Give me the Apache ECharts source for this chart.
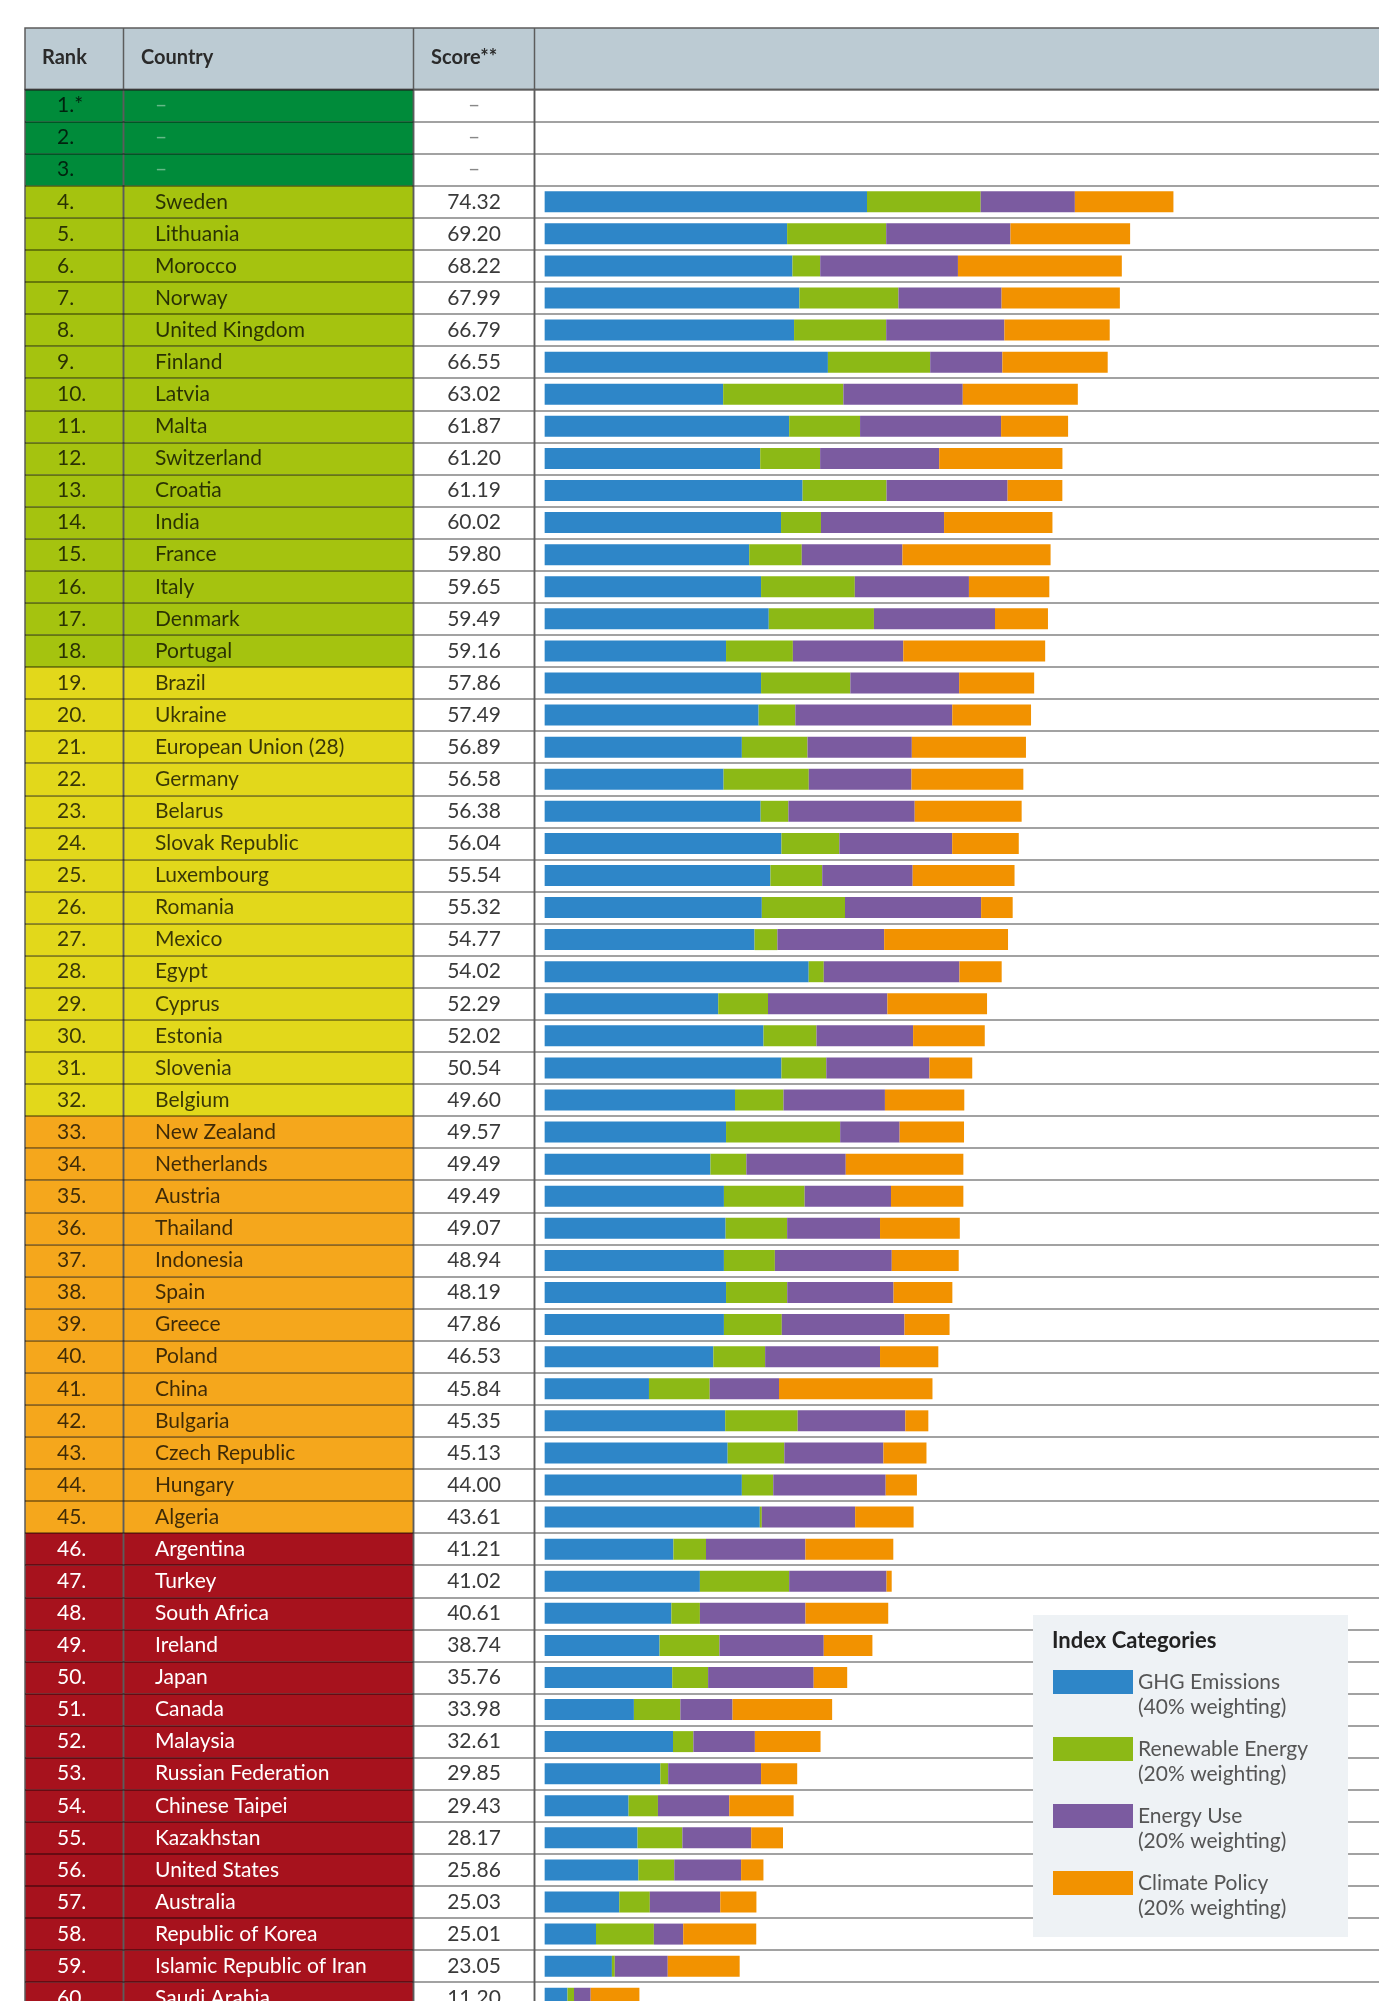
<!DOCTYPE html>
<html>
<head>
<meta charset="utf-8">
<script src="https://cdn.jsdelivr.net/npm/echarts@6/dist/echarts.min.js"></script>
<style>
  html, body { margin: 0; padding: 0; background: #fff; }
  #main { width: 1379px; height: 2001px; }
</style>
</head>
<body>
<div id="main"></div>
<script>
// table rows (rank 1-3 left empty in the original)
const ranks = ['1.*', '2.', '3.'].concat(Array.from({ length: 57 }, (_, i) => (i + 4) + '.'));
const countries = ['–', '–', '–', 'Sweden', 'Lithuania', 'Morocco', 'Norway', 'United Kingdom', 'Finland',
  'Latvia', 'Malta', 'Switzerland', 'Croatia', 'India', 'France', 'Italy', 'Denmark', 'Portugal', 'Brazil',
  'Ukraine', 'European Union (28)', 'Germany', 'Belarus', 'Slovak Republic', 'Luxembourg', 'Romania', 'Mexico',
  'Egypt', 'Cyprus', 'Estonia', 'Slovenia', 'Belgium', 'New Zealand', 'Netherlands', 'Austria', 'Thailand',
  'Indonesia', 'Spain', 'Greece', 'Poland', 'China', 'Bulgaria', 'Czech Republic', 'Hungary', 'Algeria',
  'Argentina', 'Turkey', 'South Africa', 'Ireland', 'Japan', 'Canada', 'Malaysia', 'Russian Federation',
  'Chinese Taipei', 'Kazakhstan', 'United States', 'Australia', 'Republic of Korea', 'Islamic Republic of Iran',
  'Saudi Arabia'];
const scores = [null, null, null, 74.32, 69.20, 68.22, 67.99, 66.79, 66.55, 63.02, 61.87, 61.20, 61.19, 60.02,
  59.80, 59.65, 59.49, 59.16, 57.86, 57.49, 56.89, 56.58, 56.38, 56.04, 55.54, 55.32, 54.77, 54.02, 52.29, 52.02,
  50.54, 49.60, 49.57, 49.49, 49.49, 49.07, 48.94, 48.19, 47.86, 46.53, 45.84, 45.35, 45.13, 44.00, 43.61, 41.21,
  41.02, 40.61, 38.74, 35.76, 33.98, 32.61, 29.85, 29.43, 28.17, 25.86, 25.03, 25.01, 23.05, 11.20];

// index categories
const ghg = [null, null, null,
  38.10, 28.66, 29.29, 30.11, 29.48, 33.48, 21.10, 28.90, 25.48, 30.49,
  27.94, 24.18, 25.58, 26.49, 21.44, 25.58, 25.29, 23.31, 21.15, 25.53,
  27.99, 26.69, 25.67, 24.81, 31.21, 20.52, 25.87, 27.99, 22.50, 21.44,
  19.60, 21.19, 21.39, 21.19, 21.44, 21.19, 19.94, 12.33, 21.34, 21.63,
  23.31, 25.43, 15.22, 18.35, 14.98, 13.58, 15.08, 10.55, 15.17, 13.68,
  9.92, 10.98, 11.08, 8.82, 6.07, 7.95, 2.70];
const renewable = [null, null, null,
  13.44, 11.71, 3.28, 11.71, 10.89, 12.09, 14.21, 8.38, 7.08, 9.92,
  4.72, 6.21, 11.08, 12.43, 7.90, 10.55, 4.34, 7.76, 10.07, 3.28,
  6.84, 6.12, 9.83, 2.70, 1.78, 5.88, 6.26, 5.30, 5.73, 13.49,
  4.24, 9.54, 7.27, 6.02, 7.23, 6.84, 6.12, 7.18, 8.57, 6.70,
  3.71, 0.24, 3.85, 10.55, 3.37, 7.08, 4.24, 5.49, 2.41, 0.92,
  3.47, 5.30, 4.24, 3.61, 6.84, 0.34, 0.77];
const energyUse = [null, null, null,
  11.13, 14.69, 16.28, 12.19, 13.97, 8.53, 14.11, 16.67, 14.07, 14.31,
  14.55, 11.90, 13.49, 14.31, 13.05, 12.86, 18.55, 12.33, 12.14, 14.93,
  13.34, 10.69, 16.09, 12.62, 16.04, 14.11, 11.42, 12.19, 11.99, 7.03,
  11.75, 10.21, 10.98, 13.82, 12.57, 14.50, 13.58, 8.19, 12.72, 11.71,
  13.29, 11.03, 11.75, 11.51, 12.48, 12.33, 12.48, 6.17, 7.27, 10.98,
  8.43, 8.14, 7.90, 8.33, 3.47, 6.26, 1.97];
const policy = [null, null, null,
  11.65, 14.14, 19.37, 13.98, 12.45, 12.45, 13.60, 7.92, 14.57, 6.47,
  12.81, 17.51, 9.50, 6.26, 16.77, 8.87, 9.31, 13.49, 13.22, 12.64,
  7.87, 12.04, 3.73, 14.64, 4.99, 11.78, 8.47, 5.06, 9.38, 7.61,
  13.90, 8.55, 9.43, 7.91, 6.95, 5.33, 6.89, 18.14, 2.72, 5.09,
  3.69, 6.91, 10.39, 0.61, 9.78, 5.75, 3.96, 11.77, 7.76, 4.27,
  7.61, 3.75, 2.64, 4.27, 8.63, 8.50, 5.76];

const categoryNames = ['GHG Emissions', 'Renewable Energy', 'Energy Use', 'Climate Policy'];
const weightings = ['(40% weighting)', '(20% weighting)', '(20% weighting)', '(20% weighting)'];
const headers = ['Rank', 'Country', 'Score**'];

// rating bands: last rank in each band
const bandLast = [3, 18, 32, 45, 60];
const bandColors = ['#008b3a', '#a5c30f', '#e2d81b', '#f5a71c', '#a7121d'];
const bandText = ['rgba(0,0,0,0.75)', 'rgba(0,0,0,0.75)', 'rgba(0,0,0,0.75)', 'rgba(0,0,0,0.75)', '#ffffff'];
const catColors = ['#2e86c8', '#8cb916', '#7b5ba0', '#f29200'];

const FONT = 'Lato';
const TOP = 89.5, ROW = 32.08;
const H = ROW * ranks.length;
const cols = [[25, 98.5], [123.5, 290], [413.5, 121], [534.5, 854.5]];

const band = i => bandLast.findIndex(b => i + 1 <= b);

const myChart = echarts.init(document.getElementById('main'), null, { renderer: 'canvas' });

// the table runs past the bottom and right edge of the page, so no outer bounds
const grids = cols.map(c => ({
  left: c[0], width: c[1], top: TOP, height: H, z: 3, outerBoundsMode: 'none',
  show: true, borderColor: '#5c5c5c', borderWidth: 1.5, backgroundColor: 'transparent'
}));

const yAxes = cols.map((c, k) => ({
  type: 'category', gridIndex: k, inverse: true, data: ranks,
  axisLabel: { show: false }, axisTick: { show: false }, axisLine: { show: false },
  z: k < 2 ? 3 : 0,
  splitLine: {
    show: true,
    lineStyle: k < 2 ? { color: 'rgba(0,0,0,0.38)', width: 2 } : { color: '#a2a2a2', width: 2 }
  }
}));

const xAxes = cols.map((c, k) => k < 3
  ? { type: 'value', gridIndex: k, min: 0, max: 1, show: false }
  : { type: 'value', gridIndex: k, min: -1.2, max: 99.8, show: false });

const cellSeries = (k, textOf, colorOf, labelColorOf, pos) => ({
  type: 'bar', xAxisIndex: k, yAxisIndex: k, barCategoryGap: '0%', silent: true, z: 2,
  data: ranks.map((r, i) => ({
    value: 1,
    itemStyle: { color: colorOf(i) },
    label: { color: labelColorOf(i) }
  })),
  label: {
    show: true, position: pos, align: pos === 'inside' ? 'center' : 'left', verticalAlign: 'middle',
    fontFamily: FONT, fontSize: 21,
    formatter: p => textOf(p.dataIndex)
  }
});

const series = [
  cellSeries(0, i => ranks[i], i => bandColors[band(i)], i => bandText[band(i)], [32, '50%']),
  cellSeries(1, i => countries[i], i => bandColors[band(i)],
    i => (scores[i] == null ? 'rgba(255,255,255,0.4)' : bandText[band(i)]), [31.5, '50%']),
  cellSeries(2, i => (scores[i] == null ? '–' : scores[i].toFixed(2)), () => 'rgba(255,255,255,0)',
    i => (scores[i] == null ? '#888' : '#3a3a3a'), 'inside')
];
[ghg, renewable, energyUse, policy].forEach((d, k) => {
  series.push({
    name: categoryNames[k], type: 'bar', stack: 'total', xAxisIndex: 3, yAxisIndex: 3,
    barWidth: 21, itemStyle: { color: catColors[k] }, data: d, silent: true
  });
});

// header row of the table
const headerGraphic = [
  { type: 'rect', shape: { x: cols[0][0], y: 28, width: 1400, height: TOP - 28 },
    style: { fill: '#bccbd3', stroke: '#5c5c5c', lineWidth: 1.5 } }
].concat(cols.slice(1).map(c => ({
  type: 'line', shape: { x1: c[0], y1: 28, x2: c[0], y2: TOP }, style: { stroke: '#5c5c5c', lineWidth: 1.5 }
}))).concat(headers.map((h, k) => ({
  type: 'text', x: [42, 141, 431][k], y: 58,
  style: { text: h, fill: '#2a2a2a', font: 'bold 20px ' + FONT, verticalAlign: 'middle' }
})));

myChart.setOption({
  animation: false,
  backgroundColor: '#fff',
  title: {
    text: 'Index Categories', left: 1052, top: 1630, padding: 0, z: 6,
    textStyle: { fontFamily: FONT, fontWeight: 'bold', fontSize: 22, color: '#222' }
  },
  legend: {
    data: categoryNames, orient: 'vertical', left: 1033, top: 1615,
    padding: [29.5, 40, 16.5, 20], backgroundColor: '#eef2f5',
    itemWidth: 80, itemHeight: 24, itemGap: -8, icon: 'rect', selectedMode: false,
    textStyle: { fontFamily: FONT, fontSize: 21, color: '#555', lineHeight: 25 },
    formatter: name => '\n' + name + '\n' + weightings[categoryNames.indexOf(name)]
  },
  grid: grids,
  xAxis: xAxes,
  yAxis: yAxes,
  series: series,
  graphic: headerGraphic
});
</script>
</body>
</html>
